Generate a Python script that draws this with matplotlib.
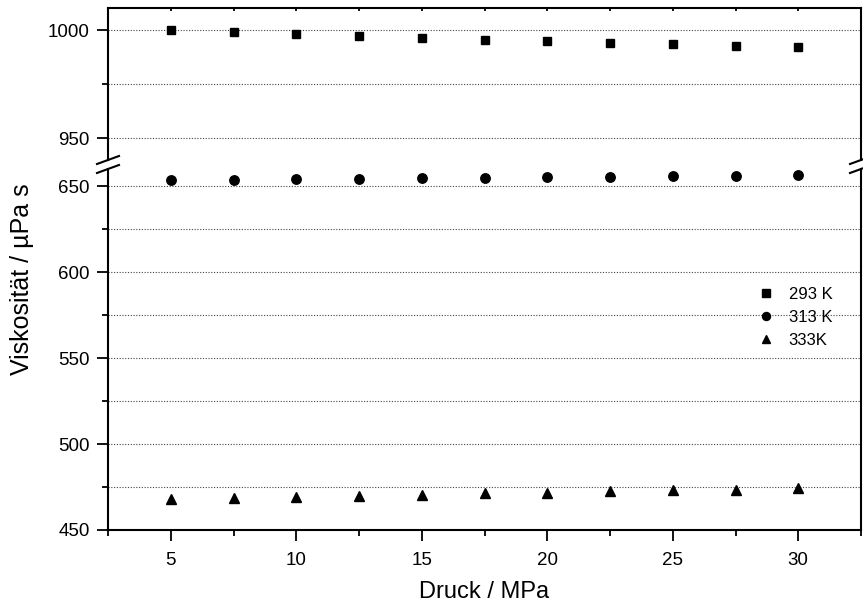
import matplotlib.pyplot as plt
from matplotlib.lines import Line2D
from matplotlib.ticker import MultipleLocator

plt.rcParams['font.family'] = ['Liberation Sans', 'DejaVu Sans']

# Druck in MPa
druck = [5, 7.5, 10, 12.5, 15, 17.5, 20, 22.5, 25, 27.5, 30]
# Viskosität in µPa s
visk_293 = [1000, 999, 998, 997.2, 996.5, 995.5, 995, 994, 993.6, 992.6, 992.1]
visk_313 = [653.5, 653.6, 654, 654.3, 654.7, 655, 655.3, 655.6, 655.8, 656.2, 656.5]
visk_333 = [467.9, 468.6, 469.1, 469.8, 470.5, 471.3, 471.7, 472.5, 473.0, 473.5, 474.2]
labels = ['293 K', '313 K', '333K']

W, H = 863, 607
fig = plt.figure(figsize=(W / 100, H / 100), dpi=100)

def px(x, y):
    return x / W, 1 - y / H

left, right, top, bottom = 108, 861, 8, 530
brk_hi, brk_lo = 160, 169

ax_top = fig.add_axes([left / W, 1 - brk_hi / H, (right - left) / W, (brk_hi - top) / H])
ax_bot = fig.add_axes([left / W, 1 - bottom / H, (right - left) / W, (bottom - brk_lo) / H])

ax_top.plot(druck, visk_293, 's', color='black', ms=6, label=labels[0])
ax_bot.plot(druck, visk_313, 'o', color='black', ms=6.8, label=labels[1])
ax_bot.plot(druck, visk_333, '^', color='black', ms=7, label=labels[2])

ax_top.set_ylim(940, 1010.2)
ax_bot.set_ylim(450, 660)

for ax in (ax_top, ax_bot):
    ax.set_xlim(2.5, 32.5)
    ax.xaxis.set_major_locator(MultipleLocator(5))
    ax.xaxis.set_minor_locator(MultipleLocator(2.5))
    ax.yaxis.set_major_locator(MultipleLocator(50))
    ax.yaxis.set_minor_locator(MultipleLocator(25))
    ax.grid(True, which='both', axis='y', linestyle=(0, (1, 1.5)), color='#444444', linewidth=0.8)
    ax.tick_params(which='both', direction='out', width=1.3, labelsize=13.5, pad=5)
    ax.tick_params(which='major', length=8)
    ax.tick_params(which='minor', length=4.5)
    for s in ax.spines.values():
        s.set_linewidth(1.5)

ax_top.spines['bottom'].set_visible(False)
ax_top.tick_params(axis='x', which='both', bottom=False, labelbottom=False, top=True,
                   direction='in', length=2)
ax_bot.spines['top'].set_visible(False)
ax_bot.tick_params(axis='x', which='both', top=False)
ax_bot.tick_params(axis='x', pad=8)

# Bruchmarken an beiden Achsen
for xs in (left, right):
    for yc in (brk_hi, brk_lo):
        x0, y0 = px(xs - 11, yc + 4)
        x1, y1 = px(xs + 11, yc - 4)
        fig.add_artist(Line2D([x0, x1], [y0, y1], color='black', lw=1.5))

h1, l1 = ax_top.get_legend_handles_labels()
h2, l2 = ax_bot.get_legend_handles_labels()
ax_bot.legend(h1 + h2, l1 + l2, loc='center left', bbox_to_anchor=(0.843, 0.588),
              frameon=False, fontsize=12, markerscale=0.85, handlelength=1.0,
              handletextpad=0.85, labelspacing=0.48)

fig.text(*px(484, 592), 'Druck / MPa', ha='center', va='center', fontsize=17)
fig.text(*px(22, 279), 'Viskosität / µPa s', ha='center', va='center', rotation=90, fontsize=18)

fig.savefig('out.png', dpi=100)
